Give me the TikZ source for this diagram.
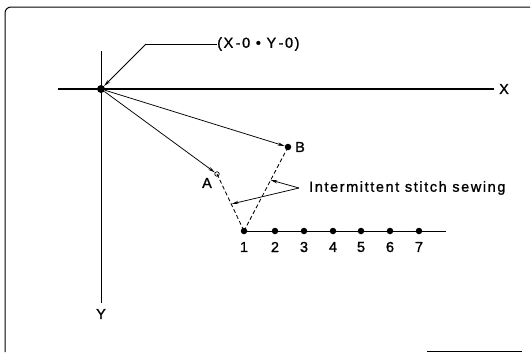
\documentclass[tikz,border=0pt]{standalone}
\usepackage{fontspec}
\newfontfamily\lbl{Liberation Sans}[LetterSpace=11,FakeBold=1.2]
\usetikzlibrary{arrows.meta}
\tikzset{
  dot/.style={circle,fill=black,inner sep=0pt,minimum size=6.5pt},
  odot/.style={circle,draw=black,fill=white,line width=0.7pt,inner sep=0pt,minimum size=4.5pt},
  lab/.style={font=\lbl\fontsize{14.5}{15}\selectfont,inner sep=0pt},
  ax/.style={line width=1.1pt},
  thin/.style={line width=0.75pt},
  arr/.style={thin,-{Stealth[length=7pt,width=3.2pt]}},
  dsh/.style={line width=0.85pt,dash pattern=on 4pt off 2.5pt}
}
\begin{document}
\begin{tikzpicture}[x=1pt,y=-1pt]
\useasboundingbox (0,0) rectangle (532,354);
% frame
\draw[line width=1pt,rounded corners=6pt] (5,352) -- (5,7) -- (530,7);
\draw[line width=1pt] (427,351) -- (522,351);
% axes
\coordinate (xl) at (58,89);
\coordinate (xr) at (494,89);
\coordinate (yt) at (101,51);
\coordinate (yb) at (101,303);
\draw[ax] (xl) -- (xr);
\draw[thin] (yt) -- (yb);
\node[lab] (X) at (504,89) {X};
\node[lab] (Y) at (101,314) {Y};
% points
\node[dot,minimum size=8pt] (O) at (101,89) {};
\node[odot] (A) at (217,174) {};
\node[dot] (B) at (288,147) {};
\node[lab,anchor=east] (Al) at (212,183) {A};
\node[lab,anchor=west] (Bl) at (295,147) {B};
\foreach \i/\x in {1/244,2/275,3/304,4/333,5/361,6/390,7/419}{
  \node[dot] (p\i) at (\x,231) {};
  \node[lab] (n\i) at (\x,247) {\i};
}
\coordinate (lineend) at (446,231);
\draw[thin] (p1) -- (lineend);
% movements
\draw[arr] (O) -- (A);
\draw[arr] (O) -- (B);
\draw[dsh] (A.center) -- (p1.center);
\draw[dsh] (B.center) -- (p1.center);
% origin label
\node[lab,anchor=west] (orig) at (217,44) {(X\,-0\ \textbullet\ Y\,-0)};
\coordinate (k) at (146,44);
\draw[thin] (orig.west) -- (k);
\draw[arr] (k) -- (O);
% intermittent label
\node[lab,anchor=west] (ist) at (309,188) {Intermittent stitch sewing};
\coordinate (tip) at (299,188);
\coordinate (onB) at (270.5,180);
\coordinate (onA) at (231.5,204);
\draw[arr] (tip) -- (onB);
\draw[arr] (tip) -- (onA);
\end{tikzpicture}
\end{document}
